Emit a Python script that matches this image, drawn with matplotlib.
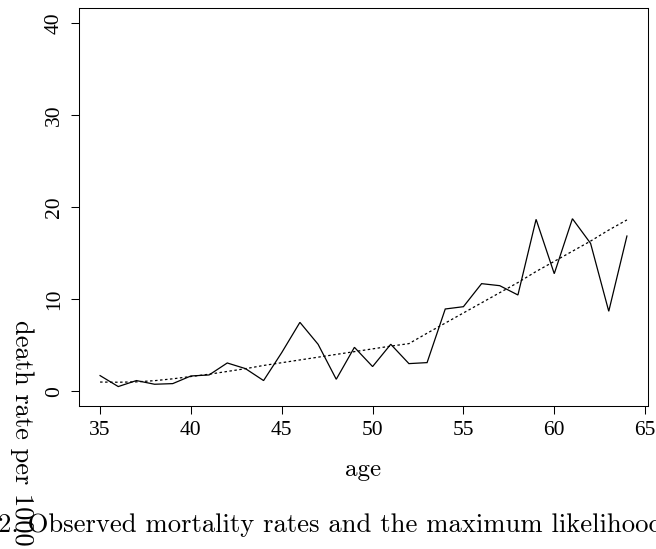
import matplotlib
matplotlib.use("Agg")
import matplotlib.pyplot as plt

# Data
age = [35, 36, 37, 38, 39, 40, 41, 42, 43, 44, 45, 46, 47, 48, 49,
       50, 51, 52, 53, 54, 55, 56, 57, 58, 59, 60, 61, 62, 63, 64]
observed = [1.70, 0.51, 1.16, 0.76, 0.83, 1.66, 1.77, 3.07, 2.46, 1.16,
            4.20, 7.48, 5.10, 1.30, 4.77, 2.68, 5.10, 3.00, 3.11, 8.93,
            9.18, 11.68, 11.46, 10.45, 18.66, 12.76, 18.73, 16.05, 8.68, 16.85]
fitted = [1.00, 0.98, 1.02, 1.15, 1.35, 1.60, 1.85, 2.15, 2.45, 2.80,
          3.10, 3.40, 3.70, 4.00, 4.30, 4.60, 4.90, 5.17, 6.30, 7.40,
          8.50, 9.60, 10.70, 11.80, 13.00, 14.10, 15.20, 16.30, 17.50, 18.60]
x_ticks = [35, 40, 45, 50, 55, 60, 65]
y_ticks = [0, 10, 20, 30, 40]

W, H = 656, 549
fig = plt.figure(figsize=(W / 100, H / 100), dpi=100)
ax = fig.add_axes([79 / W, 1 - 406 / H, (648 - 79) / W, (406 - 8) / H])

ax.plot(age, observed, color="black", lw=0.9, solid_joinstyle="miter")
ax.plot(age, fitted, color="black", lw=0.9, linestyle=(0, (2, 2)))

ax.set_xlim(35 - 0.04 * 29, 64 + 0.04 * 29)
ax.set_ylim(-1.6, 41.6)
ax.set_xticks(x_ticks)
ax.set_yticks(y_ticks)

tick_font = dict(family="Liberation Serif", size=15.5)
ax.set_xticklabels([str(t) for t in x_ticks], fontdict=tick_font)
ax.set_yticklabels([str(t) for t in y_ticks], fontdict=tick_font,
                   rotation=90, va="center")
ax.tick_params(direction="out", length=5.5, width=0.75, pad=5.5, color="black")
for s in ax.spines.values():
    s.set_linewidth(0.75)
    s.set_color("black")

# axis title and stray labels in Computer Modern
fig.text(363.5 / W, 1 - 476 / H, "age", family="cmr10", size=18,
         ha="center", va="baseline")
fig.text(22 / W, 1 - 320 / H, "death rate per 1000", family="cmr10", size=19,
         rotation=-90, ha="center", va="top")
fig.text(-2 / W, 1 - 532 / H,
         "2. Observed mortality rates and the maximum likelihood",
         family="cmr10", size=19.2, ha="left", va="baseline")

fig.savefig("out.png", dpi=100)
